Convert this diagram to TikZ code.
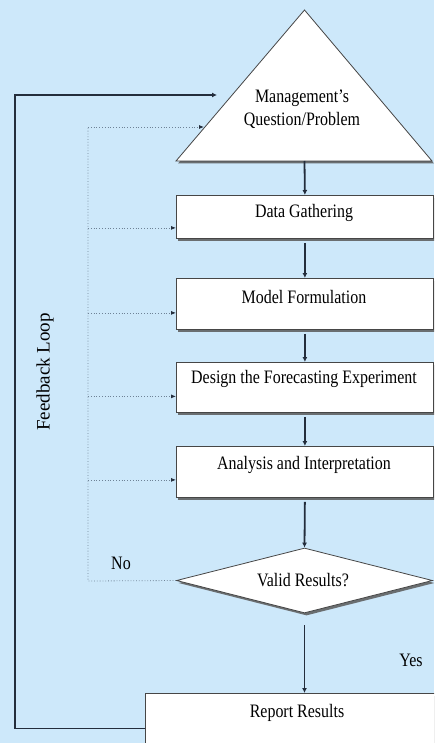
\documentclass[tikz,border=0pt]{standalone}
\usepackage{fontspec}
\setmainfont{Liberation Serif}
\usetikzlibrary{arrows.meta,shapes.geometric,shadows,calc}
\definecolor{bgblue}{RGB}{205,232,250}
\definecolor{flowline}{RGB}{35,45,60}
\definecolor{dotline}{RGB}{110,130,150}
\definecolor{edgegray}{RGB}{70,70,70}
% narrow, tall lettering
\newcommand\nar[1]{\scalebox{0.84}[1]{#1}}

\begin{document}
\begin{tikzpicture}[x=1pt,y=-1pt,
  txt/.style={font=\fontsize{19}{23}\selectfont, inner sep=0pt, align=center},
  boxshadow/.style={drop shadow={shadow xshift=2pt,shadow yshift=-2.5pt,fill=black!65,opacity=0.85}},
  box/.style={draw=edgegray, line width=0.8pt, fill=white, minimum width=257pt,
              anchor=north west, inner sep=0pt, boxshadow},
  flow/.style={draw=flowline, line width=1.8pt, -{Latex[length=5pt,width=5pt]}},
  back/.style={draw=dotline, line width=0.8pt, dotted},
  backarrow/.style={back, -{Latex[length=5pt,width=4pt,color=flowline]}},
]
% canvas
\fill[bgblue] (0,0) rectangle (434,743);
\useasboundingbox (0,0) rectangle (434,743);
\clip (0,0) rectangle (434,743);

% problem triangle
\coordinate (apex) at (304.5,10);
\coordinate (tbl) at (176,161);
\coordinate (tbr) at (432,161);
\coordinate (tbase) at (304.5,161);
\fill[black!65, opacity=0.85] ([shift={(2pt,-2.5pt)}]apex) -- ([shift={(2pt,-2.5pt)}]tbl) -- ([shift={(2pt,-2.5pt)}]tbr) -- cycle;
\draw[edgegray, line width=0.8pt, fill=white] (apex) -- (tbl) -- (tbr) -- cycle;
\node[txt] (mgmt) at (302,109) {\nar{Management’s}\\\nar{Question/Problem}};

% process boxes
\node[box, minimum height=43pt] (dg) at (176,195) {};
\node[txt] (dgt) at (304,213) {\nar{Data Gathering}};
\node[box, minimum height=51pt] (mf) at (176,278) {};
\node[txt] (mft) at (304,297) {\nar{Model Formulation}};
\node[box, minimum height=50pt] (de) at (176,362) {};
\node[txt] (det) at (304,379) {\nar{Design the Forecasting Experiment}};
\node[box, minimum height=51pt] (an) at (176,446) {};
\node[txt] (ant) at (304,465) {\nar{Analysis and Interpretation}};

% decision
\node[diamond, draw=edgegray, line width=0.8pt, fill=white, boxshadow,
      minimum width=256pt, minimum height=65pt, inner sep=0pt] (vr) at (304.5,580.5) {};
\node[txt] (vrt) at (303,580) {\nar{Valid Results?}};

% report
\node[box, minimum width=300pt, minimum height=52pt] (rep) at (145,693) {};
\node[txt] (rept) at (297,713) {\nar{Report Results}};

% labels
\node[txt] (no) at (121,563) {\nar{No}};
\node[txt] (yes) at (411,660) {\nar{Yes}};
\node[txt, rotate=90] (fbl) at (45,372) {Feedback Loop};

% main flow
\draw[flow] (tbase) -- (dg.north);
\draw[flow, shorten <=4pt] (dg.south) -- (mf.north);
\draw[flow, shorten <=4pt] (mf.south) -- (de.north);
\draw[flow, shorten <=4pt] (de.south) -- (an.north);
\draw[flow, shorten <=4pt] (an.south) -- (vr.north);
\draw[flow, shorten <=12pt] (vr.south) -- (vr.south |- rep.north);

% solid feedback loop
\coordinate (fbc) at (15,95);
\coordinate (fbin) at (217,95);
\coordinate (repout) at ([yshift=-9pt]rep.west);
\draw[flow] (repout) -| (fbc) -- (fbin);

% dotted "No" returns
\coordinate (nob) at (88,581);
\coordinate (not) at (88,127);
\coordinate (tin) at (204,127);
\coordinate (dgin) at ([yshift=-11pt]dg.west);
\coordinate (mfin) at ([yshift=-9pt]mf.west);
\coordinate (dein) at ([yshift=-9pt]de.west);
\coordinate (anin) at ([yshift=-8pt]an.west);
\draw[back] (vr.west) -- (nob) -- (not);
\draw[backarrow] (not) -- (tin);
\draw[backarrow] (not |- dgin) -- (dgin);
\draw[backarrow] (not |- mfin) -- (mfin);
\draw[backarrow] (not |- dein) -- (dein);
\draw[backarrow] (not |- anin) -- (anin);
\end{tikzpicture}
\end{document}
